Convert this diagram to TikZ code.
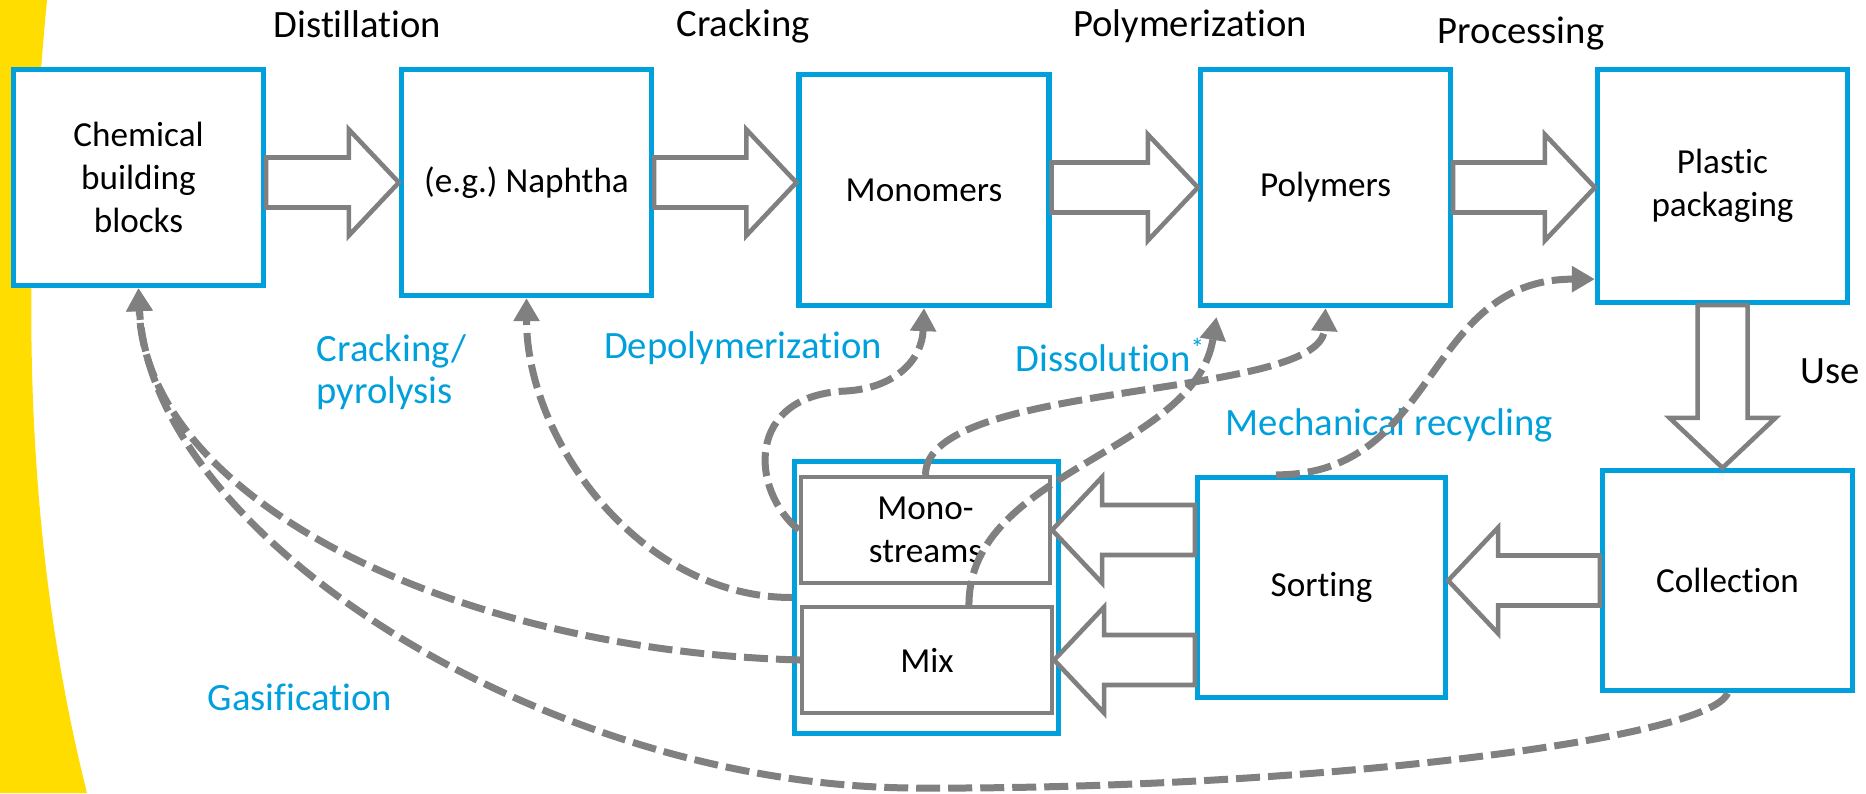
\documentclass[tikz,border=0pt]{standalone}
\usepackage{fontspec}
\setmainfont{Carlito}[Ligatures=NoCommon]
\frenchspacing
\usetikzlibrary{arrows.meta, calc}
\definecolor{procblue}{RGB}{0,160,220}
\definecolor{arrowgray}{RGB}{128,128,128}
\definecolor{bandyellow}{RGB}{255,221,0}

% wide hollow arrow from #1 to #2 (both coordinates)
\newcommand{\fatarrow}[2]{%
  \coordinate (fa-a) at #1;
  \coordinate (fa-b) at #2;
  \coordinate (fa-h) at ($(fa-b)!0.5cm!(fa-a)$);
  \draw[fatarrow] ($(fa-a)!0.25cm!90:(fa-b)$) -- ($(fa-h)!0.25cm!90:(fa-b)$) -- ($(fa-h)!0.53cm!90:(fa-b)$)
    -- (fa-b) -- ($(fa-h)!0.53cm!-90:(fa-b)$) -- ($(fa-h)!0.25cm!-90:(fa-b)$) -- ($(fa-a)!0.25cm!-90:(fa-b)$) -- cycle;}

\begin{document}
\begin{tikzpicture}[
        stage/.style={rectangle, draw=procblue, line width=1.5pt, fill=white, minimum width=2.5cm, align=center, font=\fontsize{10}{12.2}\selectfont},
        substream/.style={rectangle, draw=arrowgray, line width=1.2pt, fill=white, minimum width=2.5cm, minimum height=1.06cm, align=center, font=\fontsize{10}{12.2}\selectfont},
        fatarrow/.style={draw=arrowgray, line width=1.3pt, fill=white, line join=miter},
        recycle/.style={draw=arrowgray, line width=0.07cm, dash pattern=on 0.24cm off 0.08cm, -{Triangle[length=0.23cm, width=0.25cm]}},
        steplabel/.style={font=\fontsize{11}{12}\selectfont, inner sep=0pt},
        routelabel/.style={steplabel, text=procblue, align=left}]

        \fill[white] (0,0) rectangle (18.66,7.93);
        \useasboundingbox (0,0) rectangle (18.66,7.93);
        \fill[bandyellow] (0,7.93) -- (0.47,7.93) .. controls (0.22,5.29) and (0.21,2.63) .. (0.87,0) -- (0,0) -- cycle;

        % value chain
        \node[stage, minimum height=2.16cm] (chem) at (1.385,6.155) {Chemical\\building\\blocks};
        \node[stage, minimum height=2.26cm] (naph) at (5.265,6.105) {(e.g.) Naphtha};
        \node[stage, minimum height=2.31cm] (mono) at (9.24,6.03) {Monomers};
        \node[stage, minimum height=2.36cm] (poly) at (13.255,6.055) {Polymers};
        \node[stage, minimum height=2.33cm] (pack) at (17.225,6.07) {Plastic\\packaging};
        \node[stage, minimum height=2.20cm] (coll) at (17.275,2.125) {Collection};
        \node[stage, minimum height=2.20cm, minimum width=2.48cm] (sort) at (13.215,2.055) {Sorting};
        \node[stage, minimum height=2.72cm, minimum width=2.64cm] (group) at (9.265,1.955) {};
        \node[substream, minimum width=2.49cm] (monostr) at (9.255,2.63) {Mono-\\streams};
        \node[substream] (mix) at (9.27,1.33) {Mix};

        \fatarrow{(chem.east |- naph.west)}{(naph.west)}
        \fatarrow{(naph.east)}{(mono.west |- naph.east)}
        \fatarrow{(mono.east |- poly.west)}{(poly.west)}
        \fatarrow{(poly.east)}{(pack.west |- poly.east)}
        \fatarrow{(pack.south)}{(pack.south |- coll.north)}
        \fatarrow{(coll.west)}{(sort.east |- coll.west)}
        \fatarrow{(sort.west |- monostr.east)}{(monostr.east)}
        \fatarrow{(sort.west |- mix.east)}{(mix.east)}

        \node[steplabel, anchor=base] (distil) at (3.575,7.555) {Distillation};
        \node[steplabel, anchor=base] (crack) at (7.43,7.56) {Cracking};
        \node[steplabel, anchor=base] (polym) at (11.9,7.56) {Polymerization};
        \node[steplabel, anchor=base] (proc) at (15.21,7.50) {Processing};
        \node[steplabel, anchor=base] (use) at (18.30,4.10) {Use};

        % recycling routes
        \node[routelabel, anchor=west] (pyro) at (3.16,4.205) {Cracking/\\pyrolysis};
        \node[routelabel, anchor=base] (depol) at (7.43,4.35) {Depolymerization};
        \node[routelabel, anchor=base west] (dissol) at (10.15,4.22) {Dissolution\textsuperscript{*}};
        \node[routelabel, anchor=base west] (mech) at (12.25,3.58) {Mechanical recycling};
        \node[routelabel, anchor=base west] (gasif) at (2.07,0.83) {Gasification};

        \coordinate (gaslow) at (9.18,0.05);
        \coordinate (depo) at (8.46,4.02);
        \draw[recycle] (coll.south) .. controls +(-0.18,-0.47) and +(3.82,-0.02) .. (gaslow)
            .. controls +(-3.68,0) and +(0.12,-2.50) .. (chem.south);
        \draw[recycle] (mix.west) .. controls +(-3.5,0.1) and +(0.07,-2.10) .. (chem.south);
        \draw[recycle] (group.west) .. controls +(-1.52,0) and +(0,-1.42) .. (naph.south);
        \draw[recycle] (monostr.west) .. controls +(-0.49,0.40) and +(-1.01,-0.04) .. (depo)
            .. controls +(0.49,0.03) and +(-0.02,-0.52) .. (mono.south);
        \draw[recycle] (monostr.north) .. controls +(0,0.95) and +(-0.05,-0.92) .. (poly.south);
        \draw[recycle, shorten >=0.09cm] ($(mix.north)!0.33!(mix.north east)$) .. controls +(0,1.35) and +(-0.23,-1.45) .. ($(poly.south west)+(0.2,0)$);
        \draw[recycle] ($(sort.north west)!0.32!(sort.north east)$) .. controls +(1.64,0) and +(-1.72,0) .. ($(pack.south west)+(0,0.26)$);
    \end{tikzpicture}
\end{document}
